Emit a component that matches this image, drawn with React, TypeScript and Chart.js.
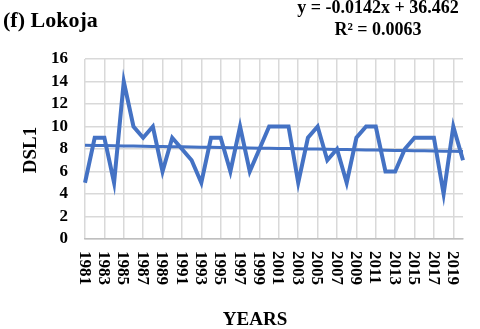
import React, { useEffect, useRef } from "react";
import { Chart, registerables } from "chart.js";

Chart.register(...registerables);

const years: string[] = [
  "1981","1982","1983","1984","1985","1986","1987","1988","1989","1990",
  "1991","1992","1993","1994","1995","1996","1997","1998","1999","2000",
  "2001","2002","2003","2004","2005","2006","2007","2008","2009","2010",
  "2011","2012","2013","2014","2015","2016","2017","2018","2019","2020",
];

const dsl1: number[] = [
  5, 9, 9, 5, 14, 10, 9, 10, 6, 9,
  8, 7, 5, 9, 9, 6, 10, 6, 8, 10,
  10, 10, 5, 9, 10, 7, 8, 5, 9, 10,
  10, 6, 6, 8, 9, 9, 9, 4, 10, 7,
];

// Displayed linear trendline: y = -0.0142x + 36.462 (x = year)
const trendSlope = -0.0142;
const trendIntercept = 36.462;
const trendValues: number[] = years.map((y) => trendSlope * Number(y) + trendIntercept);

const titleText = "(f) Lokoja";
const equationText = "y = -0.0142x + 36.462";
const r2Text = "R\u00b2 = 0.0063";
const yTitle = "DSL1";
const xTitle = "YEARS";

const BLUE = "#4472C4";
const SERIF = "'Liberation Serif', 'Times New Roman', serif";

const textPlugin = {
  id: "customText",
  afterDraw(chart: any) {
    const ctx = chart.ctx as CanvasRenderingContext2D;
    const xs = chart.scales.x;
    ctx.save();
    ctx.fillStyle = "#000";
    // x tick labels rotated clockwise
    ctx.font = `bold 17px ${SERIF}`;
    ctx.textAlign = "left";
    ctx.textBaseline = "middle";
    years.forEach((lab, i) => {
      if (i % 2 !== 0) return;
      const x = xs.getPixelForValue(i);
      ctx.save();
      ctx.translate(x - 1, 251);
      ctx.rotate(Math.PI / 2);
      ctx.fillText(lab, 0, 0);
      ctx.restore();
    });
    // title
    ctx.textBaseline = "alphabetic";
    ctx.font = `bold 22px ${SERIF}`;
    ctx.textAlign = "left";
    ctx.fillText(titleText, 3, 27);
    // equation
    ctx.font = `bold 18px ${SERIF}`;
    ctx.textAlign = "center";
    ctx.fillText(equationText, 378, 13);
    ctx.fillText(r2Text, 378, 35);
    // x title
    ctx.font = `bold 19px ${SERIF}`;
    ctx.fillText(xTitle, 255, 325);
    // y title
    ctx.save();
    ctx.translate(31, 150);
    ctx.rotate(-Math.PI / 2);
    ctx.textBaseline = "middle";
    ctx.font = `bold 19px ${SERIF}`;
    ctx.fillText(yTitle, 0, 0);
    ctx.restore();
    ctx.restore();
  },
};

export default function App() {
  const ref = useRef<HTMLCanvasElement>(null);
  useEffect(() => {
    document.body.style.margin = "0";
    const canvas = ref.current;
    if (!canvas) return;
    const chart = new Chart(canvas, {
      type: "line",
      data: {
        labels: years,
        datasets: [
          {
            label: "DSL1",
            data: dsl1,
            borderColor: BLUE,
            borderWidth: 4,
            pointRadius: 0,
            tension: 0,
            fill: false,
          },
          {
            label: "Linear (DSL1)",
            data: trendValues,
            borderColor: BLUE,
            borderWidth: 3,
            pointRadius: 0,
            tension: 0,
            fill: false,
          },
        ],
      },
      options: {
        responsive: false,
        animation: false,
        layout: { padding: { top: 59, right: 17, bottom: 90, left: 0 } },
        plugins: {
          legend: { display: false },
          tooltip: { enabled: false },
        },
        scales: {
          x: {
            type: "category",
            offset: false,
            grid: {
              drawTicks: false,
              color: (c: any) => (c.index % 2 === 0 ? "#d9d9d9" : "rgba(0,0,0,0)"),
              lineWidth: 1.5,
            },
            border: { color: "#bfbfbf", width: 1.5 },
            ticks: { display: false, autoSkip: false },
          },
          y: {
            min: 0,
            max: 16,
            grid: { drawTicks: false, color: "#d9d9d9", lineWidth: 1.5 },
            border: { display: false },
            ticks: {
              stepSize: 2,
              autoSkip: false,
              padding: 17,
              color: "#000",
              font: { family: SERIF, size: 17, weight: "bold" },
            },
            afterFit: (scale: any) => {
              scale.width = 85;
            },
          },
        },
      },
      plugins: [textPlugin],
    });
    return () => chart.destroy();
  }, []);
  return <canvas ref={ref} width={480} height={329} style={{ display: "block" }} />;
}
